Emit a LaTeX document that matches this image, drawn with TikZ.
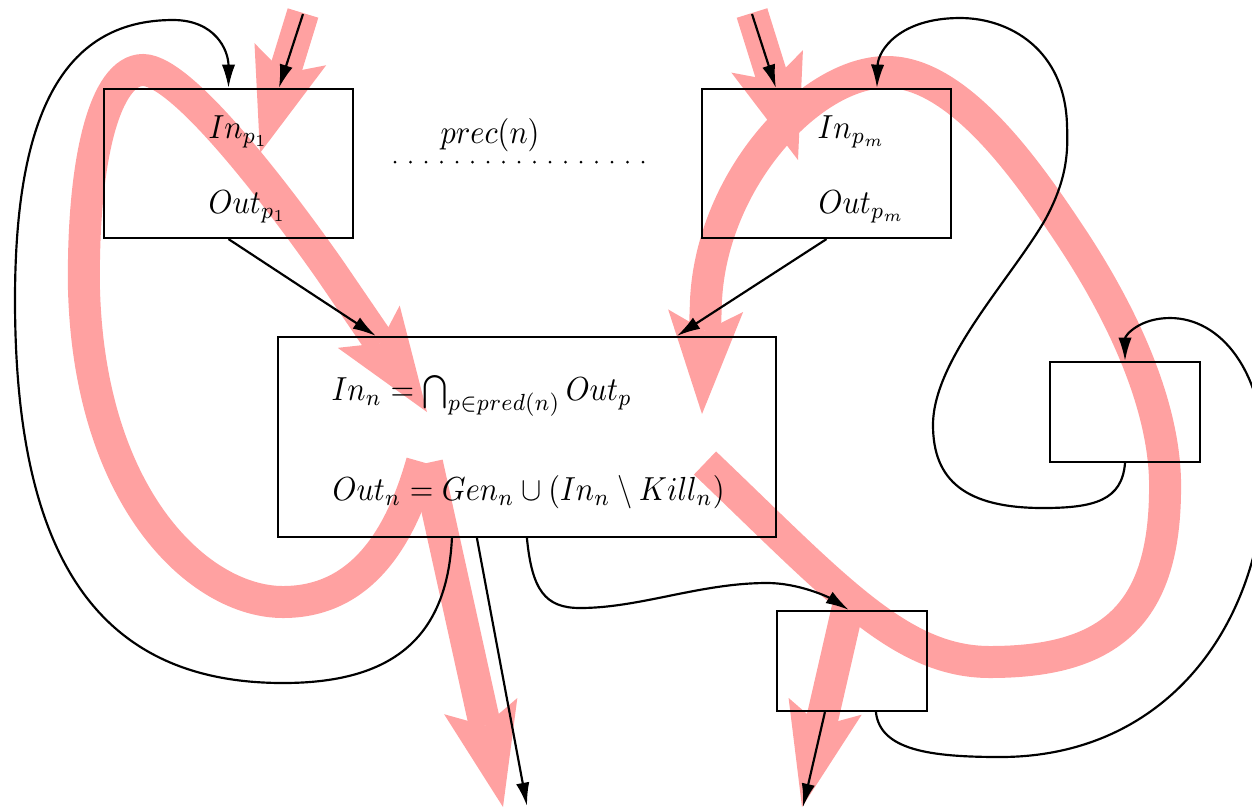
\documentclass[tikz,border=0pt]{standalone}
\usetikzlibrary{arrows.meta,calc}
\definecolor{flow}{RGB}{255,161,161}
\newcommand{\squeezetext}[1]{\scalebox{0.91}[1]{#1}}
\begin{document}
\begin{tikzpicture}[x=0.3pt,y=-0.3pt,
  box/.style={draw,line width=0.65pt,rectangle,inner sep=0pt},
  conn/.style={line width=0.65pt,-{Latex[length=7pt,width=4pt]}},
  flowarrow/.style={draw=flow,line width=9.6pt,-{Stealth[length=31pt,width=22.5pt,inset=6pt,line width=0pt]}},
  lbl/.style={anchor=base west,inner sep=0pt}]
\useasboundingbox (0,0) rectangle (1252,808);
\clip (0,0) rectangle (1252,808);

% ---- flow (pink) arrows ----
\coordinate (a0) at (303,13); \coordinate (a1) at (260,153);
\draw[flowarrow] (a0) -- (a1);
\coordinate (c0) at (752,13); \coordinate (c1) at (798,160);
\draw[flowarrow] (c0) -- (c1);
\coordinate (l0) at (422,462); \coordinate (l1) at (427,412);
\draw[flowarrow] (l0) .. controls (400,540) and (360,602) .. (283,602)
  .. controls (200,602) and (90,500) .. (84,290)
  .. controls (82,160) and (105,70) .. (143,70)
  .. controls (185,70) and (290,213) .. (330,270) -- (l1);
\coordinate (s0) at (427,463); \coordinate (s1) at (503,807);
\draw[flowarrow] (s0) -- (s1);
\coordinate (d0) at (705,463); \coordinate (d1) at (702,414);
\draw[flowarrow] (d0) .. controls (835,587) and (900,662) .. (990,662)
  .. controls (1115,662) and (1167,610) .. (1165,480)
  .. controls (1163,400) and (1120,310) .. (1070,235)
  .. controls (1030,175) and (960,72) .. (887,72)
  .. controls (810,72) and (712,180) .. (706,300) -- (d1);
\coordinate (e0) at (850,598); \coordinate (e1) at (802,807);
\draw[flowarrow] (e0) -- (e1);

% ---- boxes ----
\node[box,minimum width=74.7pt,minimum height=44.7pt] (P1) at (228.5,163.5) {};
\node[box,minimum width=74.7pt,minimum height=44.7pt] (Pm) at (826.5,163.5) {};
\node[box,minimum width=149.4pt,minimum height=60pt] (N) at (527,437) {};
\node[box,minimum width=45pt,minimum height=30pt] (R) at (1125,412) {};
\node[box,minimum width=45pt,minimum height=30pt] (B) at (852,661) {};

% ---- texts ----
\node[lbl] (inp1) at (208,138) {\squeezetext{$In_{p_1}$}};
\node[lbl] (outp1) at (208,213) {\squeezetext{$Out_{p_1}$}};
\node[lbl] (inpm) at (817,138) {\squeezetext{$In_{p_m}$}};
\node[lbl] (outpm) at (818,213) {\squeezetext{$Out_{p_m}$}};
\node[lbl] (prec) at (440,143) {\squeezetext{$prec(n)$}};
\node[lbl] (inn) at (331,400) {\squeezetext{$In_n = \bigcap_{p\in pred(n)} Out_p$}};
\node[lbl] (outn) at (332,500) {\squeezetext{$Out_n = Gen_n \cup (In_n \setminus Kill_n)$}};
\coordinate (dotL) at (395,162); \coordinate (dotR) at (644,162);
\draw[line width=0.9pt,line cap=round,dash pattern=on 0pt off 4.65pt] (dotL) -- (dotR);

% ---- black connectors ----
\coordinate (k1) at (303,14);
\draw[conn] (k1) -- ($(P1.north west)+(176,0)$);
\draw[conn] ($(N.south west)+(175,0)$) .. controls (447,640) and (390,683) .. (283,683)
  .. controls (100,683) and (15,560) .. (15,300)
  .. controls (15,120) and (60,20) .. (173,20)
  .. controls (215,20) and (228.5,50) .. (P1.north);
\draw[conn] (P1.south) -- ($(N.north west)+(99,0)$);
\coordinate (k4) at (527,806);
\draw[conn] ($(N.south west)+(200,0)$) -- (k4);
\draw[conn] ($(N.south west)+(250,0)$) .. controls (532,590) and (545,608) .. (580,608)
  .. controls (640,608) and (700,583) .. (767,583)
  .. controls (800,583) and (830,598) .. ($(B.north west)+(73,0)$);
\coordinate (k6) at (752,14);
\draw[conn] (k6) -- ($(Pm.north west)+(75,0)$);
\draw[conn] (Pm.south) -- ($(N.north west)+(400,0)$);
\draw[conn] (R.south) .. controls (1122,500) and (1095,508) .. (1043,508)
  .. controls (965,508) and (933,480) .. (933,425)
  .. controls (933,360) and (1010,280) .. (1045,220)
  .. controls (1068,178) and (1068,150) .. (1067,125)
  .. controls (1065,50) and (1010,18) .. (960,18)
  .. controls (900,18) and (878,50) .. ($(Pm.north west)+(176,0)$);
\draw[conn] ($(B.south west)+(100,0)$) .. controls (880,750) and (930,757) .. (1000,757)
  .. controls (1170,757) and (1265,620) .. (1265,465)
  .. controls (1265,370) and (1220,318) .. (1170,318)
  .. controls (1140,318) and (1125,335) .. (R.north);
\coordinate (k10) at (803,807);
\draw[conn] ($(B.south west)+(49,0)$) -- (k10);
\end{tikzpicture}
\end{document}
